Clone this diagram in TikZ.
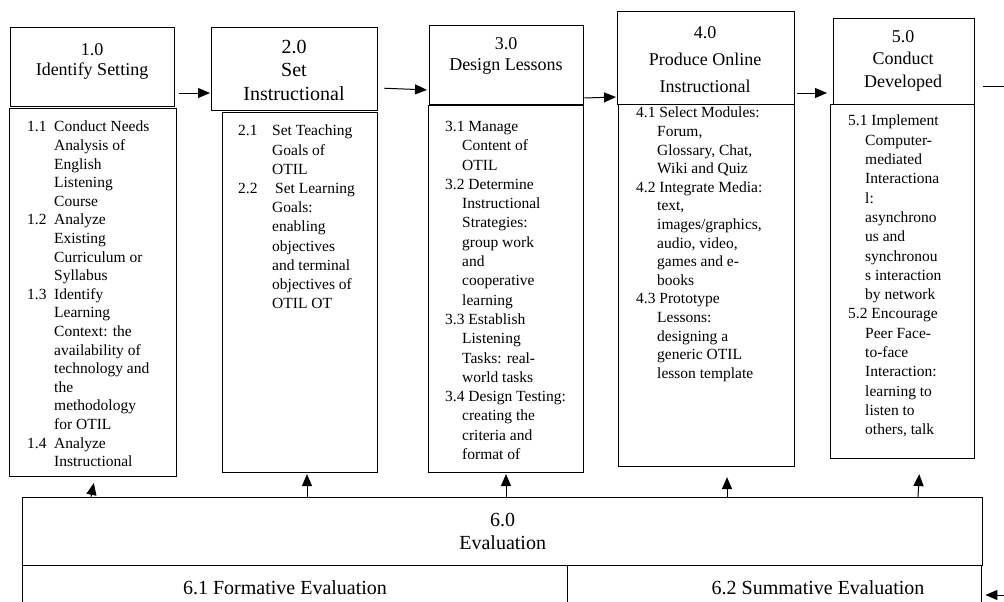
\documentclass[tikz,border=0pt]{standalone}
\usepackage{fontspec}
\setmainfont{Liberation Serif}
\usetikzlibrary{arrows.meta}
\newlength{\numcol}
\newcommand{\itemno}[1]{\makebox[\numcol][l]{#1}} % step number in a fixed column
\newcommand{\contd}{\hspace*{\numcol}} % continued line

\begin{document}
\begin{tikzpicture}[x=1pt,y=-1pt,
    hbox/.style={draw,line width=1.4pt,inner sep=0pt,anchor=north west},
    bbox/.style={draw,line width=1.1pt,inner sep=0pt,anchor=north west},
    htext/.style={align=center,inner sep=0pt,font=\fontsize{18}{20}\selectfont},
    btext/.style={align=left,inner sep=0pt,anchor=north west,font=\fontsize{15.5}{18.6}\selectfont},
    arr/.style={-{Triangle[length=12pt,width=10pt]},line width=1pt}]
    \useasboundingbox (0,0) rectangle (1004,602);
    \clip (0,0) rectangle (1004,602);

    % header boxes
    \node[hbox,minimum width=164,minimum height=79] (h1) at (10,27) {};
    \node[hbox,minimum width=166,minimum height=83] (h2) at (211,27) {};
    \node[hbox,minimum width=154,minimum height=79] (h3) at (429,25) {};
    \node[hbox,minimum width=177,minimum height=93] (h4) at (617,11) {};
    \node[hbox,minimum width=141,minimum height=86] (h5) at (833,18) {};
    \node[htext] (t1) at (92,61) {1.0\\Identify Setting};
    \node[htext,font=\fontsize{20}{23.5}\selectfont] (t2) at (294,70) {2.0\\Set\\Instructional};
    \node[htext,font=\fontsize{18}{21}\selectfont] (t3) at (506,55.5) {3.0\\Design Lessons};
    \node[htext,font=\fontsize{18}{27}\selectfont] (t4) at (705,60) {4.0\\Produce Online\\Instructional};
    \node[htext,font=\fontsize{18}{22.5}\selectfont] (t5) at (903,60.5) {5.0\\Conduct\\Developed};

    % body boxes
    \node[bbox,minimum width=167,minimum height=368] (b1) at (9,108) {};
    \node[bbox,minimum width=155,minimum height=360] (b2) at (222,112) {};
    \node[bbox,minimum width=155,minimum height=367] (b3) at (428,105) {};
    \node[bbox,minimum width=176,minimum height=362] (b4) at (618,104) {};
    \node[bbox,minimum width=144,minimum height=354] (b5) at (830,104) {};

    \node[btext] (s1) at (27,121) {\global\numcol=27pt\relax
      \itemno{1.1}Conduct Needs\\ \contd Analysis of\\ \contd English\\
      \contd Listening\\ \contd Course\\
      \itemno{1.2}Analyze\\ \contd Existing\\ \contd Curriculum or\\ \contd Syllabus\\
      \itemno{1.3}Identify\\ \contd Learning\\ \contd Context: the\\
      \contd availability of\\ \contd technology and\\ \contd the\\
      \contd methodology\\ \contd for OTIL\\
      \itemno{1.4}Analyze\\ \contd Instructional};
    \node[btext,font=\fontsize{15.5}{19.2}\selectfont] (s2) at (238,125) {\global\numcol=34pt\relax
      \itemno{2.1}Set Teaching\\ \contd Goals of\\ \contd OTIL\\
      \itemno{2.2}\hspace{3pt}Set Learning\\ \contd Goals:\\ \contd enabling\\
      \contd objectives\\ \contd and terminal\\ \contd objectives of\\ \contd OTIL OT};
    \node[btext,font=\fontsize{15.5}{19.3}\selectfont] (s3) at (445,121) {\global\numcol=17pt\relax
      3.1 Manage\\ \contd Content of\\ \contd OTIL\\
      3.2 Determine\\ \contd Instructional\\ \contd Strategies:\\ \contd group work\\
      \contd and\\ \contd cooperative\\ \contd learning\\
      3.3 Establish\\ \contd Listening\\ \contd Tasks: real-\\ \contd world tasks\\
      3.4 Design Testing:\\ \contd creating the\\ \contd criteria and\\ \contd format of};
    \node[btext] (s4) at (636,107) {\global\numcol=21pt\relax
      4.1 Select Modules:\\ \contd Forum,\\ \contd Glossary, Chat,\\ \contd Wiki and Quiz\\
      4.2 Integrate Media:\\ \contd text,\\ \contd images/graphics,\\ \contd audio, video,\\
      \contd games and e-\\ \contd books\\
      4.3 Prototype\\ \contd Lessons:\\ \contd designing a\\ \contd generic OTIL\\
      \contd lesson template};
    \node[btext,font=\fontsize{15.5}{19.3}\selectfont] (s5) at (848,115) {\global\numcol=17pt\relax
      5.1 Implement\\ \contd Computer-\\ \contd mediated\\ \contd Interactiona\\ \contd l:\\
      \contd asynchrono\\ \contd us and\\ \contd synchronou\\ \contd s interaction\\
      \contd by network\\
      5.2 Encourage\\ \contd Peer Face-\\ \contd to-face\\ \contd Interaction:\\
      \contd learning to\\ \contd listen to\\ \contd others, talk};

    % evaluation
    \node[hbox,minimum width=960,minimum height=68,align=center,
          font=\fontsize{20}{23}\selectfont] (e0) at (22,497) {6.0\\Evaluation};
    \node[hbox,minimum width=545,minimum height=50] (e1) at (22,565) {};
    \node[hbox,minimum width=414,minimum height=50] (e2) at (567,565) {};
    \node[font=\fontsize{20}{23}\selectfont,inner sep=0pt] (v1) at (285,588) {6.1 Formative Evaluation};
    \node[font=\fontsize{20}{23}\selectfont,inner sep=0pt] (v2) at (818,588) {6.2 Summative Evaluation};

    % flow between the steps
    \draw[arr,shorten <=4pt,shorten >=1pt] (h1.east |- 0,93) -- (h2.west |- 0,93);
    \draw[arr,shorten <=6pt,shorten >=2pt] (h2.east |- 0,88) -- (h3.west |- 0,90);
    \draw[arr,shorten >=1pt] (h3.east |- 0,98) -- (h4.west |- 0,97);
    \draw[arr,shorten <=2pt,shorten >=6pt] (h4.east |- 0,93) -- (h5.west |- 0,93);
    \coordinate (out5) at (1004,86);
    \draw[line width=1pt,shorten <=8pt] (h5.east |- out5) -- (out5);

    % feedback from evaluation
    \draw[arr,shorten >=6pt] (e0.north -| 91,0) -- (b1.south -| 95,0);
    \draw[arr,shorten >=1pt] (e0.north -| 307,0) -- (b2.south -| 307,0);
    \draw[arr,shorten >=1pt] (e0.north -| 506,0) -- (b3.south -| 506,0);
    \draw[arr,shorten >=10pt] (e0.north -| 727,0) -- (b4.south -| 727,0);
    \draw[arr,shorten >=15pt] (e0.north -| 918,0) -- (b5.south -| 920,0);
    \coordinate (in6) at (1004,595);
    \draw[arr,shorten >=3pt] (in6) -- (e2.east |- in6);
\end{tikzpicture}
\end{document}
